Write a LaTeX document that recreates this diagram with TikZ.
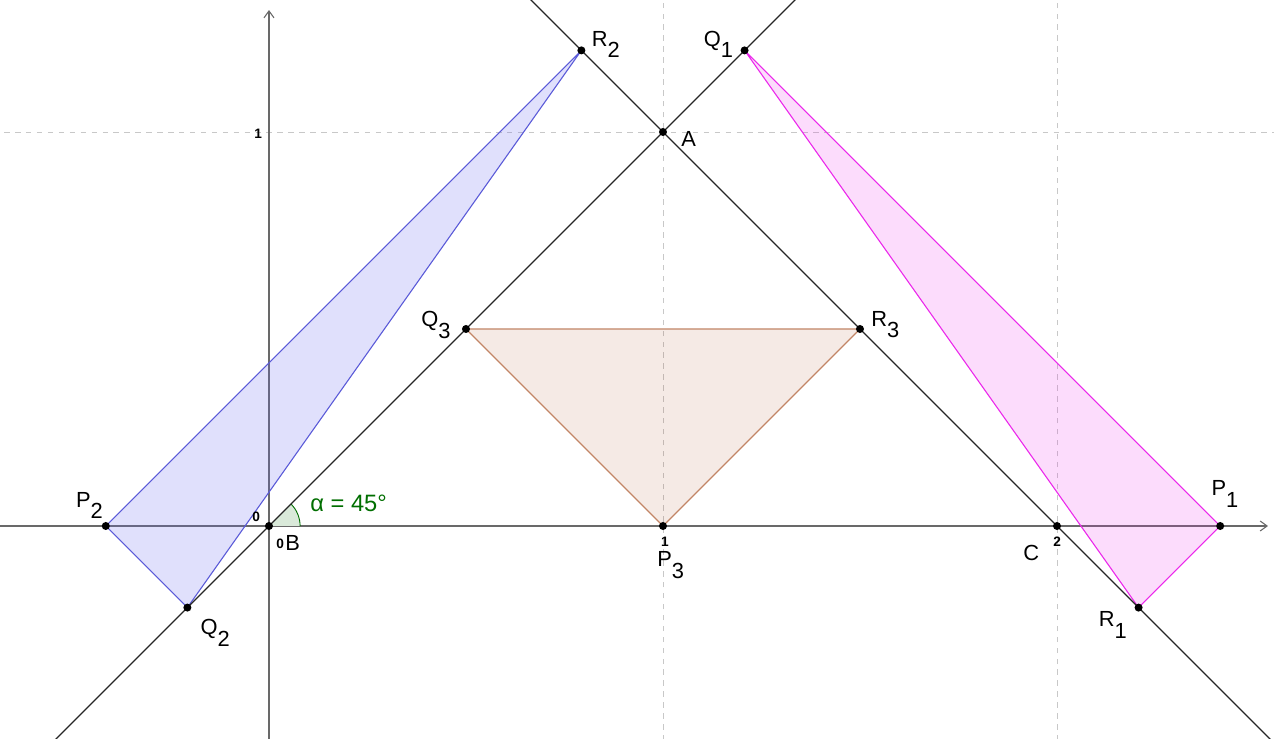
\documentclass[tikz,border=0pt]{standalone}
\usepackage{fontspec}
\setmainfont{Liberation Sans}
\usetikzlibrary{positioning,arrows.meta}

\definecolor{axisgray}{RGB}{105,105,105}
\definecolor{gridgray}{RGB}{200,200,200}
\definecolor{bluetri}{RGB}{100,100,240}
\definecolor{pinktri}{RGB}{235,40,235}
\definecolor{browntri}{RGB}{153,51,0}
\definecolor{angreen}{RGB}{0,110,0}

\newcommand{\ix}[2]{#1\raisebox{-1ex}{#2}}

\begin{document}
\begin{tikzpicture}[x=7.6cm, y=7.6cm, font=\fontsize{12}{14}\selectfont,
    dot/.style={circle, fill=black, inner sep=0pt, minimum size=4.4pt},
    lbl/.style={anchor=base west, inner sep=0pt},
    ticklbl/.style={anchor=base west, inner sep=0pt, font=\fontsize{7.5}{9}\selectfont\bfseries},
    thinline/.style={line width=0.6pt, black!85}]

\useasboundingbox (-0.6827,-0.5381) rectangle (2.5508,1.335);
\clip (-0.6827,-0.5381) rectangle (2.5508,1.335);

% Points of the figure
\coordinate (B) at (0,0);
\coordinate (A) at (1,1);
\coordinate (C) at (2,0);
\coordinate (P1) at (2.41421,0);
\coordinate (Q1) at (1.20711,1.20711);
\coordinate (R1) at (2.20711,-0.20711);
\coordinate (P2) at (-0.41421,0);
\coordinate (Q2) at (-0.20711,-0.20711);
\coordinate (R2) at (0.79289,1.20711);
\coordinate (P3) at (1,0);
\coordinate (Q3) at (0.5,0.5);
\coordinate (R3) at (1.5,0.5);

% Draw the grid
\draw[gridgray, line width=0.5pt, dash pattern=on 3pt off 3pt] (1,-0.6) -- (1,1.4);
\draw[gridgray, line width=0.5pt, dash pattern=on 3pt off 3pt] (2,-0.6) -- (2,1.4);
\draw[gridgray, line width=0.5pt, dash pattern=on 3pt off 3pt] (-0.7,1) -- (2.6,1);

% Draw the axes
\draw[axisgray, line width=0.6pt, -{Straight Barb[length=3.8pt, width=5.5pt]}] (-0.7,0) -- (2.5355,0);
\draw[axisgray, line width=0.6pt, -{Straight Barb[length=3.8pt, width=5.5pt]}] (0,-0.6) -- (0,1.3096);

% Fill the triangles
\fill[bluetri, fill opacity=0.2] (P2) -- (Q2) -- (R2) -- cycle;
\fill[pinktri, fill opacity=0.16] (P1) -- (Q1) -- (R1) -- cycle;
\fill[browntri, fill opacity=0.1] (P3) -- (Q3) -- (R3) -- cycle;

% Angle alpha at B
\fill[angreen!15] (B) -- (0.079,0) arc (0:45:0.079) -- cycle;
\draw[angreen, line width=0.5pt] (0.079,0) arc (0:45:0.079);

% Draw the triangle edges
\draw[bluetri!90!black, line width=0.6pt] (P2) -- (Q2) -- (R2) -- cycle;
\draw[pinktri, line width=0.6pt] (P1) -- (Q1) -- (R1) -- cycle;
\draw[browntri!60!white, line width=0.6pt] (P3) -- (Q3) -- (R3) -- cycle;

% Draw the two lines through A
\draw[thinline] (-0.7,-0.7) -- (1.4,1.4);
\draw[thinline] (0.6,1.4) -- (2.6,-0.6);

% Draw the points
\foreach \p in {A,B,C,P1,Q1,R1,P2,Q2,R2,P3,Q3,R3}
{
    \node[dot] (d\p) at (\p) {};
}

% Add point labels
\node (labA) [lbl, xshift=9.9pt, yshift=-8.2pt] at (A) {A};
\node (labB) [lbl, xshift=8.8pt, yshift=-13.7pt] at (B) {B};
\node (labC) [lbl, xshift=-18.7pt, yshift=-19.2pt] at (C) {C};
\node (labP1) [lbl, xshift=-4.9pt, yshift=16.5pt] at (P1) {\ix{P}{1}};
\node (labQ1) [lbl, xshift=-22.5pt, yshift=2.2pt] at (Q1) {\ix{Q}{1}};
\node (labR1) [lbl, xshift=-22pt, yshift=-10.4pt] at (R1) {\ix{R}{1}};
\node (labP2) [lbl, xshift=-16.5pt, yshift=10.4pt] at (P2) {\ix{P}{2}};
\node (labQ2) [lbl, xshift=7.1pt, yshift=-14.8pt] at (Q2) {\ix{Q}{2}};
\node (labR2) [lbl, xshift=5.5pt, yshift=2.2pt] at (R2) {\ix{R}{2}};
\node (labP3) [lbl, xshift=-3.3pt, yshift=-22.5pt] at (P3) {\ix{P}{3}};
\node (labQ3) [lbl, xshift=-24.7pt, yshift=1.1pt] at (Q3) {\ix{Q}{3}};
\node (labR3) [lbl, xshift=6pt, yshift=1.6pt] at (R3) {\ix{R}{3}};

% Add tick labels
\node (tx0) [ticklbl, xshift=3.8pt, yshift=-12.6pt] at (B) {0};
\node (ty0) [ticklbl, xshift=-9.3pt, yshift=2.2pt] at (B) {0};
\node (tx1) [ticklbl, anchor=base, xshift=1pt, yshift=-11.5pt] at (P3) {1};
\node (tx2) [ticklbl, xshift=-2.2pt, yshift=-11.5pt] at (C) {2};
\node (ty1) [ticklbl, xshift=-8.2pt, yshift=-3.8pt] at (0,1) {1};

% Add angle label
\node (labalpha) [lbl, text=angreen, font=\fontsize{13}{15}\selectfont, xshift=22.5pt, yshift=7.7pt] at (B) {α = 45°};

\end{tikzpicture}
\end{document}
